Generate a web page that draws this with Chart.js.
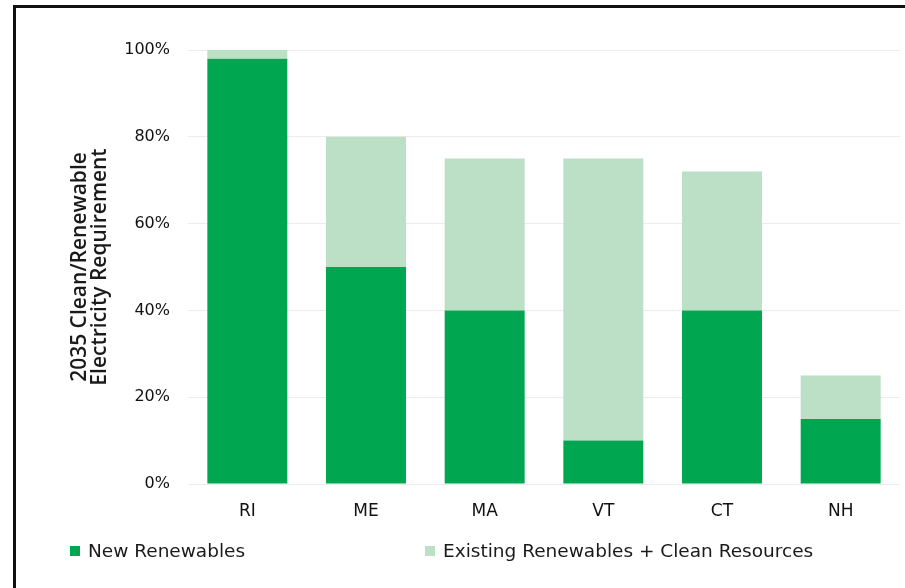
<!DOCTYPE html>
<html>
<head>
<meta charset="utf-8">
<script src="https://cdn.jsdelivr.net/npm/chart.js@4"></script>
<style>
  body { margin: 0; background: #fff; }
  #wrap { position: relative; width: 905px; height: 588px; overflow: hidden; }
  #frame { position: absolute; left: 13px; top: 5px; width: 1000px; height: 700px;
           border-left: 3px solid #111; border-top: 3px solid #111; }
  #chart { position: absolute; left: 0; top: 0; }
  .item { position: absolute; top: 540px; font: 18.5px "DejaVu Sans", sans-serif; color: #1a1a1a;
          line-height: 22px; white-space: nowrap; }
  .item i { display: inline-block; width: 10px; height: 10px; margin-right: 8px; vertical-align: 1px; }
</style>
</head>
<body>
<div id="wrap">
  <div id="frame"></div>
  <canvas id="chart" width="905" height="588"></canvas>
  <div id="legend"></div>
</div>
<script>
// Datos del gráfico
var states = ['RI', 'ME', 'MA', 'VT', 'CT', 'NH'];
var newRenewables = [98, 50, 40, 10, 40, 15];
var existingClean = [2, 30, 35, 65, 32, 10];
var seriesNames = ['New Renewables', 'Existing Renewables + Clean Resources'];
var seriesColors = ['#00a650', '#bbe0c6'];
var yTicks = [0, 20, 40, 60, 80, 100];

var chart = new Chart(document.getElementById('chart').getContext('2d'), {
  type: 'bar',
  data: {
    labels: states,
    datasets: [
      { label: seriesNames[0], data: newRenewables, backgroundColor: seriesColors[0] },
      { label: seriesNames[1], data: existingClean, backgroundColor: seriesColors[1] }
    ]
  },
  options: {
    responsive: false,
    devicePixelRatio: 1,
    animation: false,
    layout: { padding: { left: 0, top: 50, right: 5, bottom: 64 } },
    datasets: { bar: { categoryPercentage: 1, barPercentage: 0.674 } },
    plugins: { legend: { display: false }, tooltip: { enabled: false } },
    scales: {
      x: {
        stacked: true,
        grid: { display: false },
        border: { display: false },
        ticks: { color: '#111', font: { family: 'DejaVu Sans', size: 17 }, padding: 9 },
        afterFit: function(scale) { scale.height = 40; }
      },
      y: {
        stacked: true,
        min: 0,
        max: 100,
        grid: { color: '#ececec', drawTicks: false },
        border: { display: false },
        afterBuildTicks: function(scale) {
          scale.ticks = yTicks.map(function(v) { return { value: v }; });
        },
        ticks: {
          color: '#111', font: { family: 'DejaVu Sans', size: 16 }, padding: 18,
          callback: function(v) { return v + '%'; }
        },
        title: {
          display: true,
          text: ['2035 Clean/Renewable', 'Electricity Requirement'],
          color: '#1a1a1a',
          font: { family: 'Open Sans', size: 21, weight: '600', lineHeight: 0.95 },
          padding: { top: 70, bottom: 0 }
        },
        afterFit: function(scale) { scale.width = 188; }
      }
    }
  }
});

// Leyenda en HTML
var legend = document.getElementById('legend');
var legendLeft = [70, 425];
seriesNames.forEach(function(name, i) {
  var item = document.createElement('div');
  item.className = 'item';
  item.style.left = legendLeft[i] + 'px';
  item.innerHTML = '<i style="background:' + seriesColors[i] + '"></i>' + name;
  legend.appendChild(item);
});
</script>
</body>
</html>
